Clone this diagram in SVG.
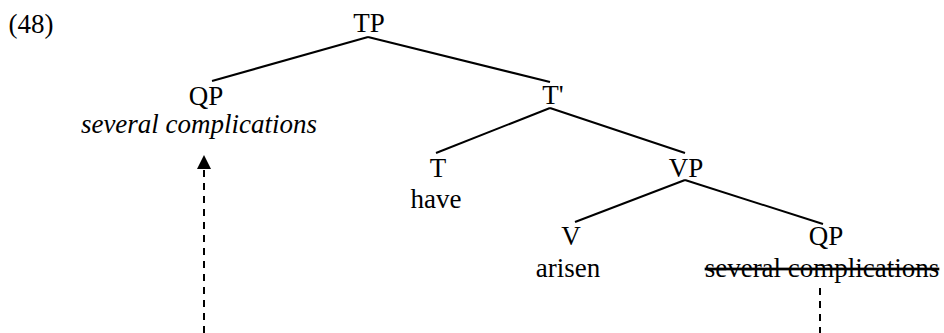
<svg xmlns="http://www.w3.org/2000/svg" width="944" height="333" viewBox="0 0 944 333">
<style>
text{font-family:'Liberation Serif','Times New Roman',Times,serif;font-size:27px;fill:#000;text-anchor:middle}
.it{font-style:italic}
.del{text-decoration:line-through}
.e{stroke:#000;stroke-width:2;fill:none}
.d{stroke:#000;stroke-width:2;fill:none;stroke-dasharray:7 6}
</style>
<text x="31" y="33">(48)</text>
<g id="connectors">
<line class="e" x1="368" y1="37" x2="212" y2="81"/>
<line class="e" x1="368" y1="37" x2="550" y2="82"/>
<line class="e" x1="550" y1="108" x2="436" y2="153"/>
<line class="e" x1="550" y1="108" x2="685" y2="153"/>
<line class="e" x1="685" y1="180" x2="575" y2="222"/>
<line class="e" x1="685" y1="180" x2="823" y2="224"/>
<line class="d" x1="820" y1="288" x2="820" y2="333"/>
<line class="d" x1="204" y1="333" x2="204" y2="169"/>
<path d="M197,169 L204,155 L211,169 Z" fill="#000"/>
</g>
<g id="TP"><text x="369" y="32">TP</text></g>
<g id="QP1"><text x="206" y="105">QP</text><text class="it" x="199" y="133">several complications</text></g>
<g id="Tbar"><text x="553" y="104">T'</text></g>
<g id="T"><text x="438" y="177">T</text><text x="436" y="208">have</text></g>
<g id="VP"><text x="686" y="177">VP</text></g>
<g id="V"><text x="571" y="245">V</text><text x="568" y="277">arisen</text></g>
<g id="QP2"><text x="826" y="245">QP</text><text class="del" x="822" y="277">several complications</text></g>
</svg>
